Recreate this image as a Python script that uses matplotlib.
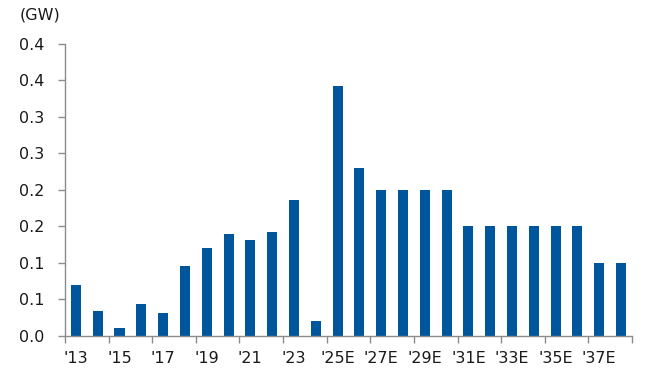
import matplotlib.pyplot as plt
from matplotlib.ticker import FixedLocator

plt.rcParams["font.family"] = ["DejaVu Sans"]

years = ["'13", "'14", "'15", "'16", "'17", "'18", "'19", "'20", "'21", "'22",
         "'23", "'24", "'25E", "'26E", "'27E", "'28E", "'29E", "'30E", "'31E",
         "'32E", "'33E", "'34E", "'35E", "'36E", "'37E", "'38E"]
capacity_gw = [0.070, 0.034, 0.011, 0.044, 0.032, 0.096, 0.120, 0.140, 0.132,
               0.142, 0.186, 0.021, 0.342, 0.230, 0.200, 0.200, 0.200, 0.200,
               0.150, 0.150, 0.150, 0.150, 0.150, 0.150, 0.100, 0.100]
y_ticks = [0.0, 0.05, 0.1, 0.15, 0.2, 0.25, 0.3, 0.35, 0.4]
y_tick_labels = ["0.0", "0.1", "0.1", "0.2", "0.2", "0.3", "0.3", "0.4", "0.4"]

BAR_COLOR = "#00569d"
AXIS_COLOR = "#8c8c8c"
TEXT_COLOR = "#1a1a1a"

fig = plt.figure(figsize=(6.59, 3.72), dpi=100)
ax = fig.add_axes([0.0986, 0.097, 0.8604, 0.785])

x = list(range(len(years)))
ax.bar(x, capacity_gw, width=0.46, color=BAR_COLOR, zorder=2)

ax.set_xlim(-0.5, len(years) - 0.5)
ax.set_ylim(0, 0.4)

# tick marks sit on category boundaries every two years, labels under every other bar
ax.xaxis.set_major_locator(FixedLocator([i - 0.5 for i in range(0, len(years) + 1, 2)]))
ax.xaxis.set_major_formatter(plt.NullFormatter())
ax.xaxis.set_minor_locator(FixedLocator(x[::2]))
ax.set_xticklabels(years[::2], minor=True)
ax.tick_params(axis="x", which="major", length=5, width=1, color=AXIS_COLOR, direction="out")
ax.tick_params(axis="x", which="minor", length=0, pad=11, labelsize=11.5, labelcolor=TEXT_COLOR)

ax.set_yticks(y_ticks)
ax.set_yticklabels(y_tick_labels)
ax.tick_params(axis="y", length=5, width=1, color=AXIS_COLOR, direction="out",
               pad=10, labelsize=11.5, labelcolor=TEXT_COLOR)

for side in ("top", "right"):
    ax.spines[side].set_visible(False)
for side in ("left", "bottom"):
    ax.spines[side].set_color(AXIS_COLOR)
    ax.spines[side].set_linewidth(1)

fig.text(0.03, 0.96, "(GW)", fontsize=11.5, color=TEXT_COLOR, va="center", ha="left")

fig.savefig("out.png", dpi=100)
